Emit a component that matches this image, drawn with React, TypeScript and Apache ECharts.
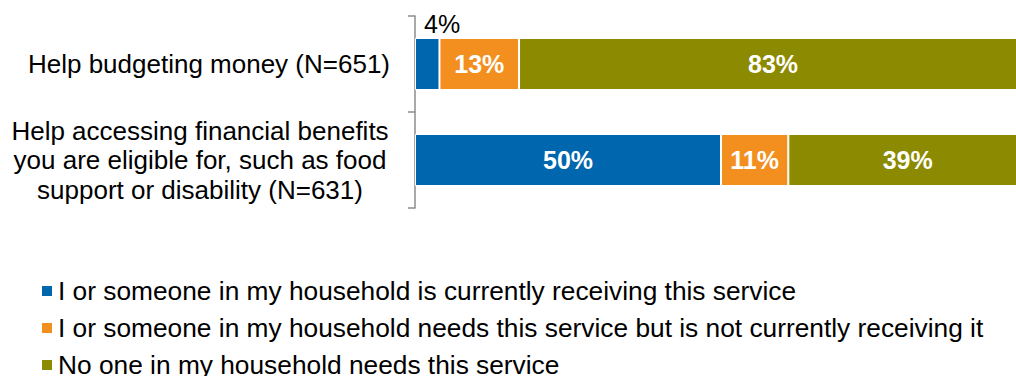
import React, { useEffect, useRef } from "react";
import * as echarts from "echarts";

const categories = [
  "Help budgeting money (N=651)",
  "Help accessing financial benefits\nyou are eligible for, such as food\nsupport or disability (N=631)",
];
const seriesNames = [
  "I or someone in my household is currently receiving this service",
  "I or someone in my household needs this service but is not currently receiving it",
  "No one in my household needs this service",
];
const receiving = [4, 50];
const needsNotReceiving = [13, 11];
const noOneNeeds = [83, 39];
const colors = ["#0066AD", "#F28F1F", "#8C8A00"];

const FONT = "Arial, 'Liberation Sans', sans-serif";

export default function App() {
  const ref = useRef<HTMLDivElement>(null);
  useEffect(() => {
    document.body.style.margin = "0";
    const chart = echarts.init(ref.current!, null, { renderer: "svg" });
    const values = [receiving, needsNotReceiving, noOneNeeds];
    const series = values.map((arr, si) => ({
      type: "bar",
      name: seriesNames[si],
      stack: "total",
      barWidth: 52,
      itemStyle: { color: colors[si], borderColor: "#ffffff", borderWidth: 1 },
      label: {
        show: true,
        position: "inside",
        formatter: "{c}%",
        color: "#ffffff",
        fontWeight: "bold",
        fontSize: 25,
        fontFamily: FONT,
      },
      data: arr.map((v) =>
        v < 6
          ? {
              value: v,
              label: {
                show: true,
                position: [9, -2],
                align: "left",
                verticalAlign: "bottom",
                color: "#000000",
                fontWeight: "normal",
                fontSize: 25,
                fontFamily: FONT,
              },
            }
          : v
      ),
    }));
    const legendTops = [278, 315, 352];
    const legends = seriesNames.map((name, i) => ({
      orient: "vertical",
      left: 40,
      top: legendTops[i],
      padding: 0,
      itemWidth: 12,
      itemHeight: 12,
      icon: "rect",
      textStyle: { fontSize: 26.3, fontFamily: FONT, color: "#000", lineHeight: 26 },
      data: [name],
    }));
    chart.setOption({
      animation: false,
      textStyle: { fontFamily: FONT },
      grid: {
        left: 415,
        width: 612,
        top: 16,
        height: 192,
        containLabel: false,
        outerBoundsMode: "none",
      },
      xAxis: { type: "value", min: 0, max: 100, show: false },
      yAxis: {
        type: "category",
        inverse: true,
        data: categories,
        axisLine: { show: true, lineStyle: { color: "#8c8c8c", width: 1.5 } },
        axisTick: { show: true, length: 7, lineStyle: { color: "#8c8c8c", width: 1.5 } },
        axisLabel: {
          margin: 25,
          color: "#000000",
          fontSize: 26,
          fontFamily: FONT,
          formatter: (val: string) => {
            const lines = val.split("\n");
            if (lines.length === 1) return `{r|${val}}`;
            return lines.map((l) => `{c|${l}}`).join("\n");
          },
          rich: {
            r: { fontSize: 26, fontFamily: FONT, color: "#000" },
            c: {
              fontSize: 26,
              fontFamily: FONT,
              color: "#000",
              width: 380,
              align: "center",
              lineHeight: 29.5,
            },
          },
        },
      },
      legend: legends,
      series,
    });
    return () => chart.dispose();
  }, []);
  return <div ref={ref} style={{ width: 1016, height: 376 }} />;
}
